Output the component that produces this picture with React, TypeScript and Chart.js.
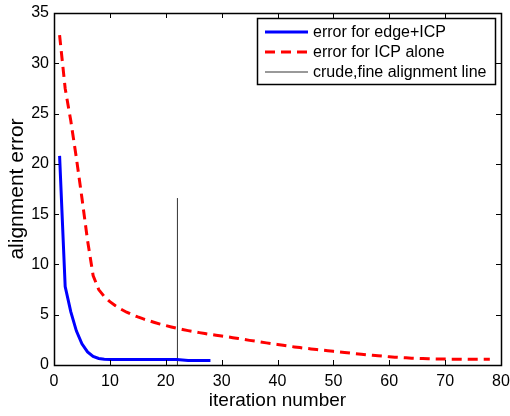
import React, { useEffect, useRef } from "react";
import { Chart, registerables } from "chart.js";

Chart.register(...registerables);

const edgeIters = [1, 2, 3, 4, 5, 6, 7, 8, 9, 10, 11, 12, 13, 14, 15, 16, 17, 18, 19, 20, 21, 22, 23, 24, 25, 26, 27, 28];
const edgeErrors = [20.8, 7.8, 5.3, 3.4, 2.1, 1.3, 0.85, 0.65, 0.58, 0.55, 0.55, 0.55, 0.55, 0.55, 0.55, 0.55, 0.55, 0.55, 0.55, 0.55, 0.55, 0.55, 0.5, 0.45, 0.45, 0.45, 0.45, 0.45];

const icpIters = [
  1, 2, 3, 4, 5, 6, 7, 8, 9, 10, 11, 12, 13, 14, 15, 16, 17, 18, 19, 20,
  21, 22, 23, 24, 25, 26, 27, 28, 29, 30, 31, 32, 33, 34, 35, 36, 37, 38, 39, 40,
  41, 42, 43, 44, 45, 46, 47, 48, 49, 50, 51, 52, 53, 54, 55, 56, 57, 58, 59, 60,
  61, 62, 63, 64, 65, 66, 67, 68, 69, 70, 71, 72, 73, 74, 75, 76, 77, 78,
];
const icpErrors = [
  32.8, 27.5, 24.3, 20.6, 16.6, 12.4, 8.9, 7.5, 6.8, 6.3,
  5.9, 5.55, 5.25, 5.0, 4.78, 4.58, 4.4, 4.23, 4.07, 3.92,
  3.78, 3.65, 3.53, 3.42, 3.32, 3.22, 3.13, 3.04, 2.96, 2.88,
  2.8, 2.72, 2.63, 2.54, 2.45, 2.37, 2.28, 2.2, 2.12, 2.04,
  1.96, 1.88, 1.8, 1.73, 1.66, 1.6, 1.54, 1.48, 1.42, 1.36,
  1.3, 1.24, 1.18, 1.12, 1.07, 1.02, 0.97, 0.92, 0.87, 0.82,
  0.78, 0.74, 0.71, 0.68, 0.66, 0.64, 0.62, 0.61, 0.6, 0.59,
  0.58, 0.58, 0.57, 0.57, 0.56, 0.56, 0.56, 0.56,
];

const switchX = [22, 22];
const switchY = [0, 16.6];

const xTicks = [0, 10, 20, 30, 40, 50, 60, 70, 80];
const yTicks = [0, 5, 10, 15, 20, 25, 30, 35];

const seriesLabels = ["error for edge+ICP", "error for ICP alone", "crude,fine alignment line"];
const seriesColors = ["#0000ff", "#ff0000", "#333333"];

const FONT = "'Liberation Sans', Arial, Helvetica, sans-serif";

const boxAndTicksPlugin = {
  id: "boxAndTicks",
  afterDatasetsDraw(chart: any) {
    const { ctx, chartArea } = chart;
    const { left, right, top, bottom } = chartArea;
    const xs = chart.scales.x;
    const ys = chart.scales.y;
    const tl = 5;
    ctx.save();
    ctx.strokeStyle = "#000";
    ctx.lineWidth = 1;
    ctx.beginPath();
    xTicks.forEach((v) => {
      const px = Math.round(xs.getPixelForValue(v)) + 0.5;
      ctx.moveTo(px, bottom);
      ctx.lineTo(px, bottom - tl);
      ctx.moveTo(px, top);
      ctx.lineTo(px, top + tl);
    });
    yTicks.forEach((v) => {
      const py = Math.round(ys.getPixelForValue(v)) + 0.5;
      ctx.moveTo(left, py);
      ctx.lineTo(left + tl, py);
      ctx.moveTo(right, py);
      ctx.lineTo(right - tl, py);
    });
    ctx.stroke();
    ctx.lineWidth = 1.5;
    ctx.strokeRect(Math.round(left) + 0.5, Math.round(top) + 0.5, Math.round(right - left), Math.round(bottom - top));
    ctx.restore();
  },
  afterDraw(chart: any) {
    const { ctx, chartArea } = chart;
    const bx = chartArea.right - 244;
    const by = chartArea.top + 5;
    const bw = 238;
    const bh = 66;
    ctx.save();
    ctx.fillStyle = "#fff";
    ctx.fillRect(bx, by, bw, bh);
    ctx.strokeStyle = "#000";
    ctx.lineWidth = 1.5;
    ctx.strokeRect(bx + 0.5, by + 0.5, bw, bh);
    ctx.font = `16px ${FONT}`;
    ctx.textBaseline = "middle";
    ctx.textAlign = "left";
    chart.data.datasets.forEach((ds: any, i: number) => {
      const cy = by + 14 + i * 20;
      ctx.beginPath();
      ctx.strokeStyle = i === 2 ? "#777" : ds.borderColor;
      ctx.lineWidth = i === 2 ? 1.5 : 3;
      ctx.setLineDash(ds.borderDash || []);
      ctx.moveTo(bx + 8, cy);
      ctx.lineTo(bx + 51, cy);
      ctx.stroke();
      ctx.setLineDash([]);
      ctx.fillStyle = "#000";
      ctx.fillText(ds.label, bx + 56, cy + 1);
    });
    ctx.restore();
  },
};

export default function App() {
  const ref = useRef<HTMLCanvasElement | null>(null);
  useEffect(() => {
    document.body.style.margin = "0";
    const canvas = ref.current;
    if (!canvas) return;
    const chart = new Chart(canvas, {
      type: "line",
      data: {
        datasets: [
          {
            label: seriesLabels[0],
            data: edgeIters.map((x, i) => ({ x, y: edgeErrors[i] })),
            borderColor: seriesColors[0],
            borderWidth: 3,
            pointRadius: 0,
            tension: 0,
            fill: false,
          },
          {
            label: seriesLabels[1],
            data: icpIters.map((x, i) => ({ x, y: icpErrors[i] })),
            borderColor: seriesColors[1],
            borderWidth: 3,
            borderDash: [10, 6],
            pointRadius: 0,
            tension: 0,
            fill: false,
          },
          {
            label: seriesLabels[2],
            data: switchX.map((x, i) => ({ x: x + 0.09, y: switchY[i] })),
            borderColor: seriesColors[2],
            borderWidth: 1,
            pointRadius: 0,
            tension: 0,
            fill: false,
          },
        ],
      },
      options: {
        animation: false,
        responsive: false,
        maintainAspectRatio: false,
        layout: { padding: { top: 13, right: 9, left: 0, bottom: 0 } },
        plugins: { legend: { display: false }, tooltip: { enabled: false } },
        scales: {
          x: {
            type: "linear",
            min: 0,
            max: 80,
            grid: { display: false, drawTicks: false, tickLength: 0 },
            border: { display: false },
            ticks: {
              stepSize: 10,
              color: "#000",
              padding: 7,
              maxRotation: 0,
              font: { family: FONT, size: 16 },
            },
            title: {
              display: true,
              text: "iteration number",
              color: "#000",
              font: { family: FONT, size: 19 },
              padding: { top: 0, bottom: 4 },
            },
            afterFit(scale: any) {
              scale.height = 51;
              scale.paddingLeft = 0;
              scale.paddingRight = 0;
            },
          },
          y: {
            type: "linear",
            min: 0,
            max: 35,
            grid: { display: false, drawTicks: false, tickLength: 0 },
            border: { display: false },
            ticks: {
              stepSize: 5,
              color: "#000",
              padding: 5,
              font: { family: FONT, size: 16 },
            },
            title: {
              display: true,
              text: "alignment error",
              color: "#000",
              font: { family: FONT, size: 21 },
              padding: { top: 5, bottom: 0 },
            },
            afterFit(scale: any) {
              scale.width = 54;
              scale.paddingTop = 0;
              scale.paddingBottom = 0;
            },
          },
        },
      },
      plugins: [boxAndTicksPlugin],
    });
    return () => chart.destroy();
  }, []);
  return (
    <div style={{ position: "absolute", left: 0, top: 0, width: 510, height: 416, background: "#fff" }}>
      <canvas ref={ref} width={510} height={416} style={{ display: "block" }} />
    </div>
  );
}
